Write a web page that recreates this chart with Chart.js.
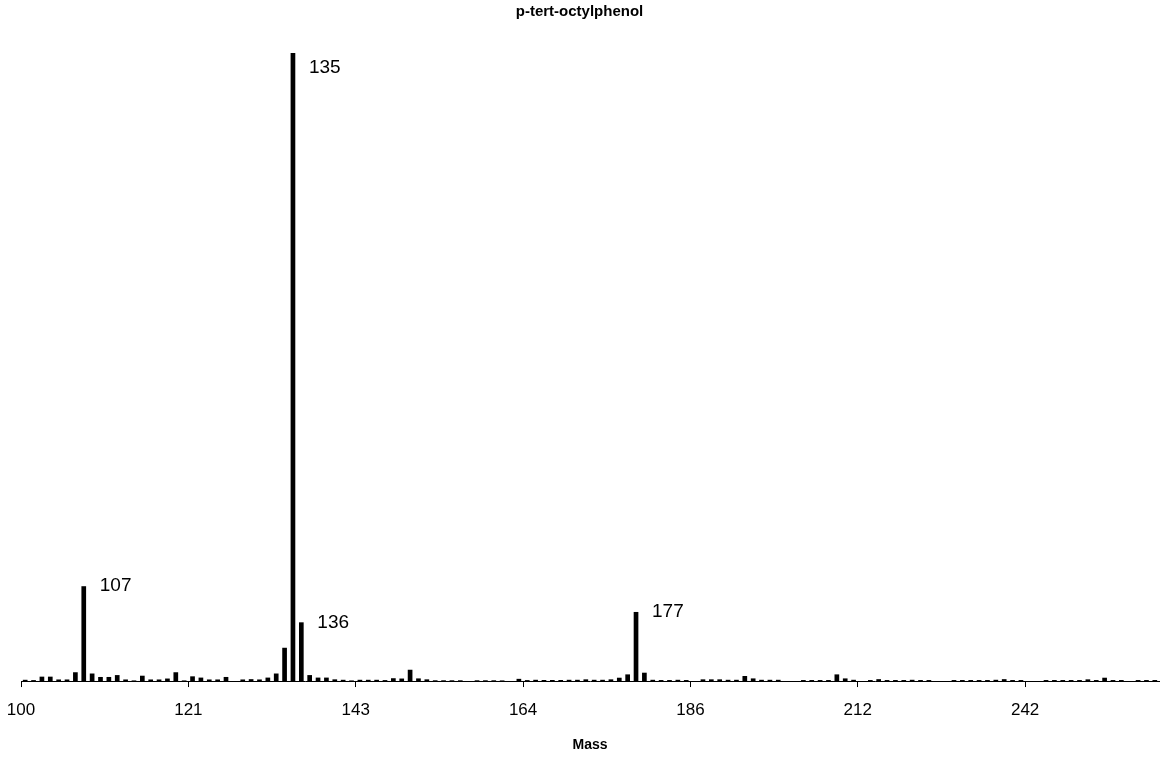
<!DOCTYPE html>
<html>
<head>
<meta charset="utf-8">
<title>p-tert-octylphenol</title>
<script src="https://cdn.jsdelivr.net/npm/chart.js@4.4.1/dist/chart.umd.min.js"></script>
<style>
    html, body { margin: 0; padding: 0; background: #fff; }
    #chartBox { width: 1162px; height: 758px; }
</style>
</head>
<body>
<div id="chartBox"><canvas id="spectrum" width="1162" height="758"></canvas></div>
<script>
// Data (mass -> relative intensity, %)
const chartTitle = "p-tert-octylphenol";
const axisTitle = "Mass";

const masses = [
    100, 101, 102, 103, 104, 105, 106, 107, 108, 109,
    110, 111, 112, 113, 114, 115, 116, 117, 118, 119,
    121, 122, 123, 125, 126, 127, 129, 130, 131, 132,
    133, 134, 135, 136, 137, 138, 139, 140, 141, 142,
    143, 144, 145, 146, 147, 148, 149, 150, 151, 152,
    153, 154, 155, 156, 157, 159, 160, 161, 162, 163,
    164, 165, 166, 167, 168, 169, 170, 171, 172, 173,
    174, 175, 176, 177, 178, 179, 180, 181, 183, 185,
    186, 187, 188, 189, 190, 191, 192, 193, 194, 195,
    197, 199, 200, 201, 203, 204, 205, 206, 207, 209,
    212, 213, 214, 215, 216, 217, 219, 220, 221, 222,
    224, 226, 227, 229, 231, 233, 235, 236, 238, 240,
    242, 243, 244, 245, 246, 247, 248, 249, 250, 251,
    253, 254, 255, 256, 257, 258
];

const intensities = [
    0.2, 0.15, 0.7, 0.7, 0.25, 0.25, 1.4, 15.1, 1.2, 0.65,
    0.65, 0.95, 0.25, 0.1, 0.85, 0.25, 0.25, 0.4, 1.4, 0.1,
    0.75, 0.55, 0.25, 0.25, 0.65, 0, 0.25, 0.3, 0.25, 0.55,
    1.2, 5.3, 100, 9.35, 0.95, 0.55, 0.55, 0.27, 0.2, 0.1,
    0.2, 0.2, 0.2, 0.15, 0.45, 0.4, 1.8, 0.42, 0.27, 0.12,
    0.12, 0.12, 0.12, 0, 0.12, 0.12, 0.12, 0.1, 0, 0.35,
    0.15, 0.2, 0.17, 0.17, 0.17, 0.2, 0.2, 0.27, 0.2, 0.2,
    0.27, 0.53, 1.06, 11.0, 1.33, 0.2, 0.16, 0.16, 0.2, 0.16,
    0, 0.27, 0.27, 0.27, 0.2, 0.2, 0.8, 0.42, 0.2, 0.2,
    0.2, 0, 0, 0.16, 0.16, 0.16, 0.16, 1.06, 0.42, 0.2,
    0, 0.16, 0.3, 0.16, 0.16, 0.16, 0.2, 0.16, 0.16, 0,
    0, 0.16, 0.16, 0.16, 0.16, 0.16, 0.2, 0.3, 0.16, 0.16,
    0, 0, 0.16, 0.16, 0.16, 0.16, 0.16, 0.27, 0.16, 0.53,
    0.16, 0.16, 0, 0.16, 0.16, 0.16
];

// peaks that get a mass label next to the bar
const labelledPeaks = [107, 135, 136, 177];

// every 20th category gets a tick + label
const tickEvery = 20;

const fontFamily = '"Liberation Sans", Arial, Helvetica, sans-serif';
Chart.defaults.font.family = fontFamily;
Chart.defaults.color = "#000";

// draws "107", "135" ... to the right of the bar tops
const peakLabels = {
    id: "peakLabels",
    afterDatasetsDraw(chart) {
        const ctx = chart.ctx;
        const meta = chart.getDatasetMeta(0);
        const area = chart.chartArea;
        ctx.save();
        ctx.fillStyle = "#000";
        ctx.font = "19px " + fontFamily;
        ctx.textAlign = "left";
        ctx.textBaseline = "middle";
        labelledPeaks.forEach(m => {
            const i = masses.indexOf(m);
            if (i < 0) return;
            const bar = meta.data[i];
            const y = Math.max(bar.y, area.top + 15);
            ctx.fillText(String(m), bar.x + 16, y);
        });
        ctx.restore();
    }
};

const tickColor = ctx => (ctx.index % tickEvery === 0 ? "#000" : "rgba(0,0,0,0)");

new Chart(document.getElementById("spectrum"), {
    type: "bar",
    data: {
        labels: masses.map(String),
        datasets: [{
            data: intensities,
            backgroundColor: "#000",
            borderWidth: 0,
            barPercentage: 0.56,
            categoryPercentage: 1.0
        }]
    },
    options: {
        responsive: false,
        animation: false,
        devicePixelRatio: 1,
        layout: { padding: { left: 0, right: 3, top: 0, bottom: 0 } },
        plugins: {
            legend: { display: false },
            tooltip: { enabled: false },
            title: {
                display: true,
                text: chartTitle,
                font: { size: 15, weight: "bold" },
                padding: { top: 3, bottom: 32 }
            }
        },
        scales: {
            x: {
                type: "category",
                offset: true,
                border: { display: true, color: "#000", width: 1 },
                grid: {
                    offset: true,
                    drawOnChartArea: false,
                    drawTicks: true,
                    tickLength: 6,
                    color: tickColor,
                    tickColor: tickColor
                },
                ticks: {
                    autoSkip: false,
                    maxRotation: 0,
                    padding: 3,
                    labelOffset: -4.18,
                    // tall line box pushes the labels down without widening the side padding
                    font: { size: 17, lineHeight: 2.35 },
                    callback: (value, index) => (index % tickEvery === 0 ? masses[index] : "")
                },
                title: {
                    display: true,
                    text: axisTitle,
                    font: { size: 14, weight: "bold" },
                    padding: { top: 3.6, bottom: 4.6 }
                }
            },
            y: {
                display: true,
                min: 0,
                max: 100,
                grid: { display: false },
                border: { display: false },
                ticks: { display: false },
                // empty strip so the plot starts 21px in from the left
                afterFit: scale => { scale.width = 21; }
            }
        }
    },
    plugins: [peakLabels]
});
</script>
</body>
</html>
